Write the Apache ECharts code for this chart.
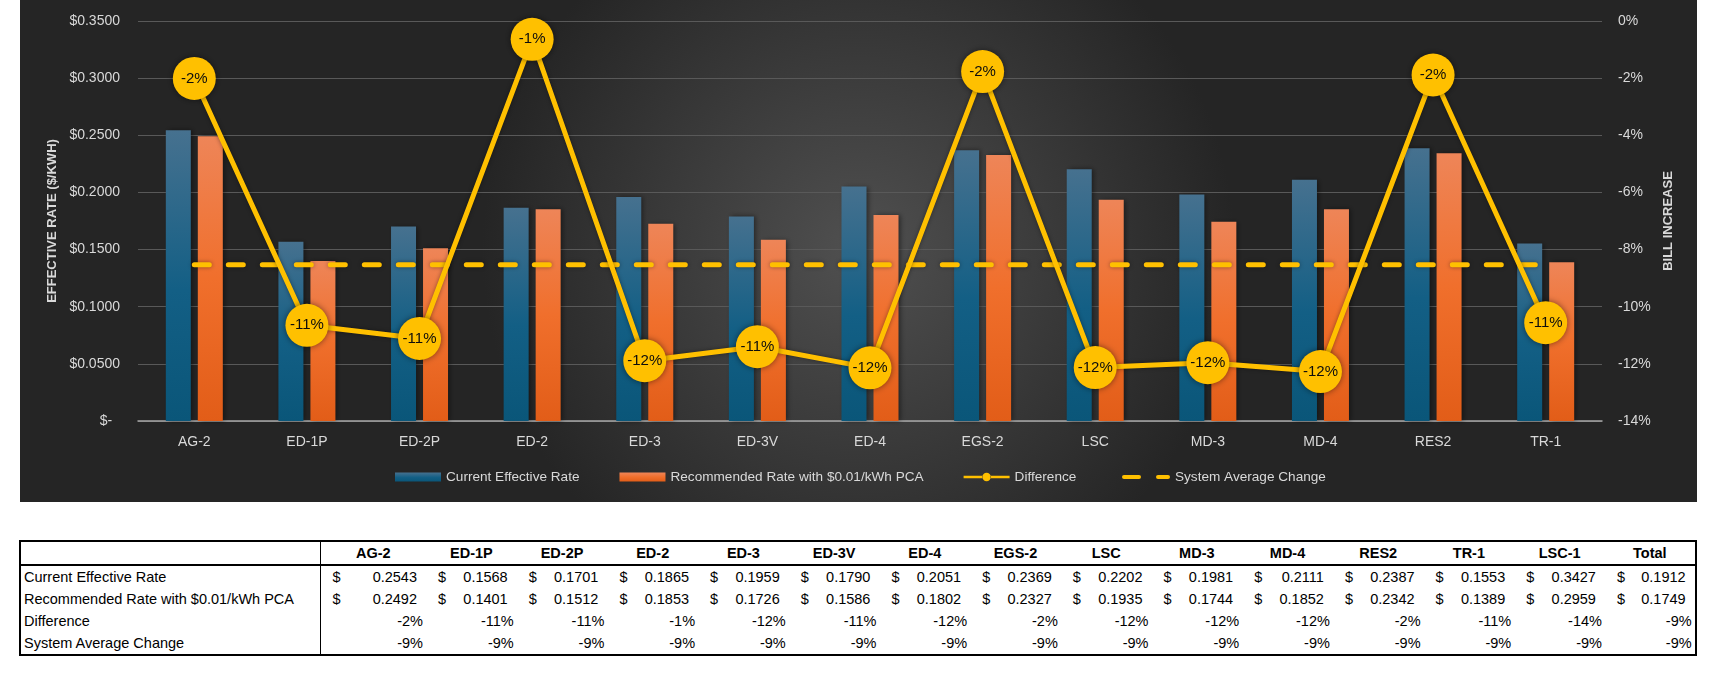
<!DOCTYPE html>
<html>
<head>
<meta charset="utf-8">
<script src="https://cdn.jsdelivr.net/npm/echarts@6/dist/echarts.min.js"></script>
<style>
  body { margin: 0; background: #fff; width: 1721px; height: 678px; position: relative; overflow: hidden; }
  #chart { position: absolute; left: 20px; top: 0; width: 1677px; height: 502px; }
  #tbl {
    position: absolute; left: 19px; top: 540px; width: 1676px;
    border-collapse: collapse; border: 2px solid #000; table-layout: fixed;
    font-family: "Liberation Sans", Arial, sans-serif;
    font-size: 14.5px; color: #000;
  }
  #tbl td, #tbl th { padding: 0; height: 22px; line-height: 22px; white-space: nowrap; overflow: hidden; }
  #tbl th { font-weight: bold; text-align: center; border-bottom: 2px solid #000; }
  #tbl td.lab, #tbl th.lab { text-align: left; padding-left: 3px; border-right: 1px solid #000; }
  #tbl td .cell { display: flex; justify-content: space-between; padding: 0 9px 0 12px; }
  #tbl td.pct { text-align: right; padding-right: 3px; }
</style>
</head>
<body>
<div id="chart"></div>
<table id="tbl"></table>
<script>
// chart / table data
var categories = ['AG-2', 'ED-1P', 'ED-2P', 'ED-2', 'ED-3', 'ED-3V', 'ED-4', 'EGS-2', 'LSC', 'MD-3', 'MD-4', 'RES2', 'TR-1'];
var tableColumns = ['AG-2', 'ED-1P', 'ED-2P', 'ED-2', 'ED-3', 'ED-3V', 'ED-4', 'EGS-2', 'LSC', 'MD-3', 'MD-4', 'RES2', 'TR-1', 'LSC-1', 'Total'];
var currentRate = [0.2543, 0.1568, 0.1701, 0.1865, 0.1959, 0.1790, 0.2051, 0.2369, 0.2202, 0.1981, 0.2111, 0.2387, 0.1553, 0.3427, 0.1912];
var recommendedRate = [0.2492, 0.1401, 0.1512, 0.1853, 0.1726, 0.1586, 0.1802, 0.2327, 0.1935, 0.1744, 0.1852, 0.2342, 0.1389, 0.2959, 0.1749];
var difference = [-0.0201, -0.1065, -0.1111, -0.0064, -0.1189, -0.1140, -0.1214, -0.0177, -0.1213, -0.1196, -0.1227, -0.0189, -0.1056, -0.1366, -0.0853];
var systemChange = [-0.0853, -0.0853, -0.0853, -0.0853, -0.0853, -0.0853, -0.0853, -0.0853, -0.0853, -0.0853, -0.0853, -0.0853, -0.0853, -0.0853, -0.0853];
var rowNames = ['Current Effective Rate', 'Recommended Rate with $0.01/kWh PCA', 'Difference', 'System Average Change'];

var n = categories.length;
var labelColor = '#d9d9d9';
var yellow = '#ffc000';
var font = '"Liberation Sans", Arial, sans-serif';

function pct(v) {
  return Math.round(v * 100) + '%';
}

var chart = echarts.init(document.getElementById('chart'));

var legendText = { color: labelColor, fontSize: 13.6, fontFamily: font };

var option = {
  backgroundColor: {
    type: 'radial', x: 0.5, y: 0.5, r: 0.75,
    colorStops: [{ offset: 0, color: '#505050' }, { offset: 1, color: '#252525' }]
  },
  textStyle: { fontFamily: font },
  grid: { left: 118, right: 95, top: 21, bottom: 81 },
  legend: [{
    top: 465,
    left: 370,
    itemWidth: 46,
    itemHeight: 9,
    itemGap: 40,
    textStyle: legendText,
    data: [
      { name: rowNames[0], icon: 'rect' },
      { name: rowNames[1], icon: 'rect' },
      { name: rowNames[2], icon: 'path://M0,3.2H20.5V5.8H0Z M28.5,3.2H49V5.8H28.5Z M20,4.5a4.5,4.5 0 1,0 9,0a4.5,4.5 0 1,0 -9,0Z' }
    ]
  }, {
    top: 465,
    left: 1097,
    itemWidth: 48,
    itemHeight: 4.5,
    itemGap: 0,
    textStyle: legendText,
    data: [
      { name: rowNames[3], icon: 'path://M2,0H17a2,2 0 0 1 0,4H2a2,2 0 0 1 0,-4Z M36,0H46a2,2 0 0 1 0,4H36a2,2 0 0 1 0,-4Z' }
    ]
  }],
  xAxis: {
    type: 'category',
    data: categories,
    axisTick: { show: false },
    axisLine: { lineStyle: { color: '#a6a6a6', width: 1.5 } },
    axisLabel: { color: labelColor, fontSize: 14, margin: 14 }
  },
  yAxis: [{
    type: 'value',
    min: 0,
    max: 0.35,
    interval: 0.05,
    name: 'EFFECTIVE RATE ($/KWH)',
    nameLocation: 'middle',
    nameRotate: 90,
    nameGap: 78,
    nameTextStyle: { color: labelColor, fontSize: 13, fontWeight: 'bold' },
    axisLabel: {
      color: labelColor, fontSize: 14, margin: 18,
      formatter: function (v) { return v === 0 ? '$-  ' : '$' + v.toFixed(4); }
    },
    splitLine: { lineStyle: { color: '#595959', width: 1 } }
  }, {
    type: 'value',
    min: -0.14,
    max: 0,
    interval: 0.02,
    name: 'BILL INCREASE',
    nameLocation: 'middle',
    nameRotate: 90,
    nameGap: 52,
    nameTextStyle: { color: labelColor, fontSize: 13, fontWeight: 'bold' },
    axisLabel: { color: labelColor, fontSize: 14, margin: 16, formatter: pct },
    splitLine: { show: false }
  }],
  series: [{
    name: rowNames[0],
    type: 'bar',
    data: currentRate.slice(0, n),
    barWidth: 25,
    barGap: '28%',
    itemStyle: {
      color: new echarts.graphic.LinearGradient(0, 0, 0, 1, [
        { offset: 0, color: '#46718f' },
        { offset: 0.55, color: '#135f85' },
        { offset: 1, color: '#0a5679' }
      ]),
      shadowBlur: 5, shadowColor: 'rgba(0,0,0,0.45)', shadowOffsetX: 2
    }
  }, {
    name: rowNames[1],
    type: 'bar',
    data: recommendedRate.slice(0, n),
    barWidth: 25,
    itemStyle: {
      color: new echarts.graphic.LinearGradient(0, 0, 0, 1, [
        { offset: 0, color: '#ee8558' },
        { offset: 0.5, color: '#f06f2c' },
        { offset: 1, color: '#e25d18' }
      ]),
      shadowBlur: 5, shadowColor: 'rgba(0,0,0,0.45)', shadowOffsetX: 2
    }
  }, {
    name: rowNames[3],
    type: 'line',
    yAxisIndex: 1,
    data: systemChange.slice(0, n),
    symbol: 'none',
    color: yellow,
    lineStyle: { color: yellow, width: 5, type: [15, 19], cap: 'round', shadowBlur: 4, shadowColor: 'rgba(0,0,0,0.4)' },
    z: 3
  }, {
    name: rowNames[2],
    type: 'line',
    yAxisIndex: 1,
    data: difference.slice(0, n),
    symbol: 'circle',
    symbolSize: 43,
    color: yellow,
    lineStyle: { color: yellow, width: 5, shadowBlur: 4, shadowColor: 'rgba(0,0,0,0.4)' },
    itemStyle: { color: yellow, shadowBlur: 6, shadowColor: 'rgba(0,0,0,0.5)' },
    label: {
      show: true, position: 'inside', color: '#0d0d0d', fontSize: 15,
      formatter: function (p) { return pct(p.value); }
    },
    z: 4
  }]
};
chart.setOption(option);

// table under the chart
var html = '<colgroup><col style="width:300px"><col style="width:106px">';
for (var c = 1; c < tableColumns.length; c++) html += '<col style="width:90.7px">';
html += '</colgroup><tr><th class="lab"></th>';
tableColumns.forEach(function (t) { html += '<th>' + t + '</th>'; });
html += '</tr>';
[currentRate, recommendedRate].forEach(function (arr, r) {
  html += '<tr><td class="lab">' + rowNames[r] + '</td>';
  arr.forEach(function (v) {
    html += '<td><div class="cell"><span>$</span><span>' + v.toFixed(4) + '</span></div></td>';
  });
  html += '</tr>';
});
[difference, systemChange].forEach(function (arr, r) {
  html += '<tr><td class="lab">' + rowNames[r + 2] + '</td>';
  arr.forEach(function (v) { html += '<td class="pct">' + pct(v) + '</td>'; });
  html += '</tr>';
});
document.getElementById('tbl').innerHTML = html;
</script>
</body>
</html>
